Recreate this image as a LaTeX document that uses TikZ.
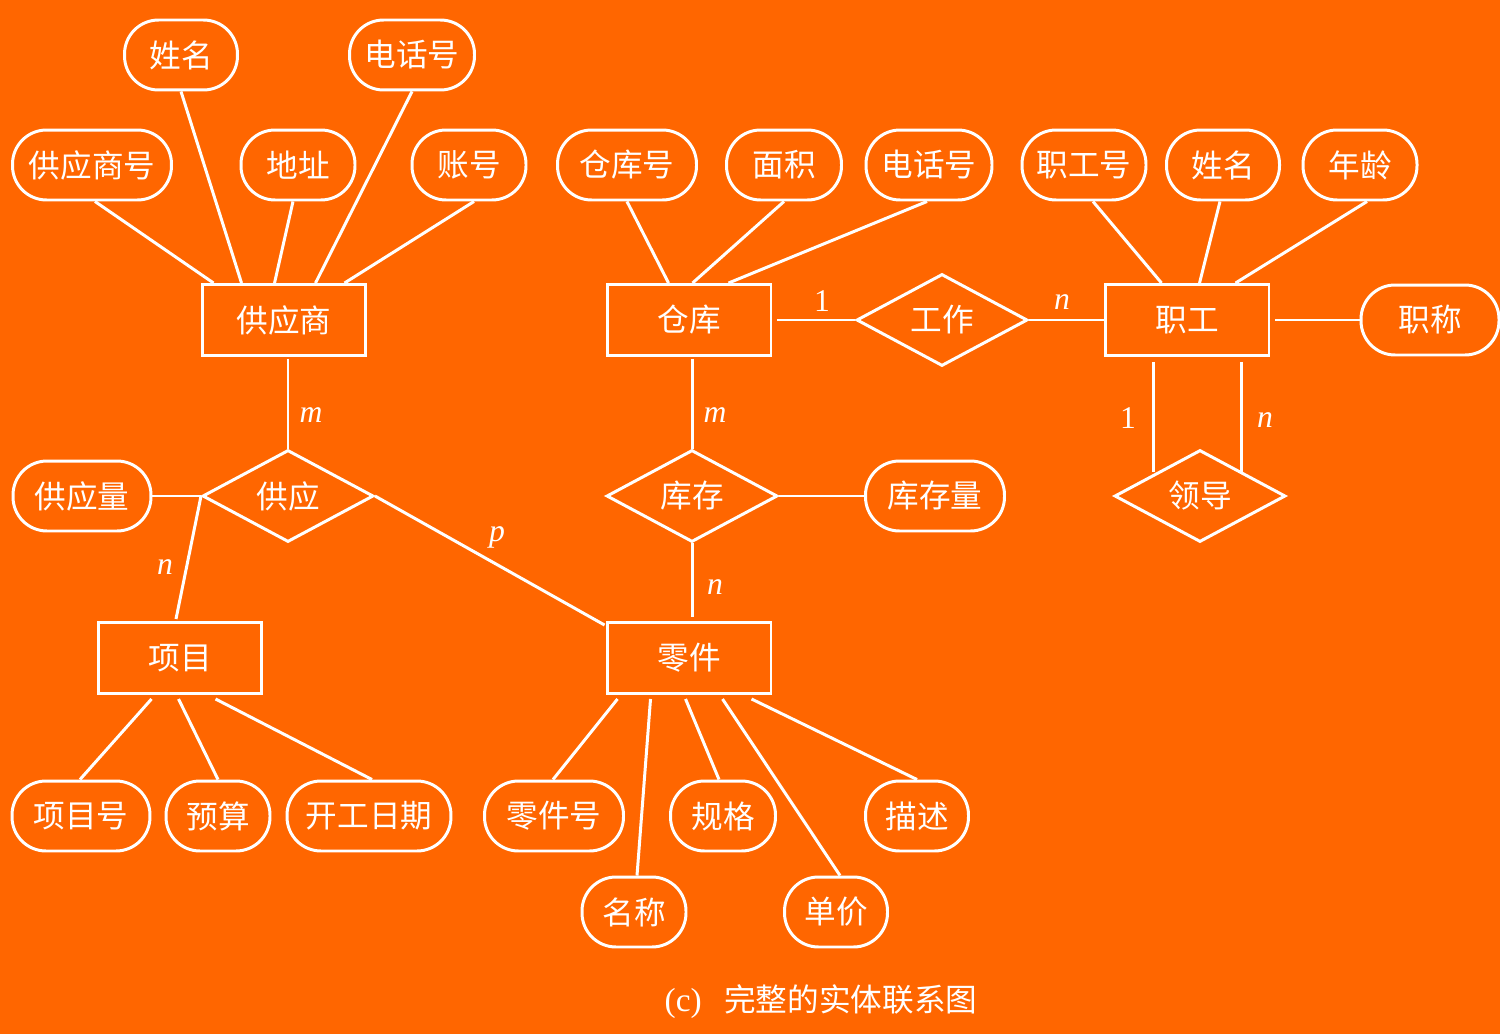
\documentclass[tikz,border=0pt]{standalone}
\usepackage{fontspec}
\setmainfont{Liberation Serif}
\newfontfamily\cjk{Noto Sans CJK SC}
\usetikzlibrary{shapes.geometric,calc}
\definecolor{bg}{RGB}{255,102,0}
\begin{document}
\begin{tikzpicture}[x=0.02cm,y=-0.02cm,
  every node/.style={text=white,font=\cjk\fontsize{18}{20}\selectfont},
  ln/.style={draw=white,line width=1.7pt},
  attr/.style={draw=white,line width=1.7pt,rounded corners=0.68cm,minimum height=1.4cm,inner sep=0pt},
  ent/.style={draw=white,line width=1.7pt,rectangle,minimum width=3.28cm,minimum height=1.42cm,inner sep=0pt},
  rel/.style={draw=white,line width=1.7pt,diamond,aspect=1.86,minimum width=3.42cm,minimum height=1.84cm,inner sep=0pt},
  lab/.style={font=\fontsize{18}{20}\selectfont\itshape},
  labu/.style={font=\fontsize{18}{20}\selectfont}]
\fill[bg] (0,0) rectangle (1500,1034);
\useasboundingbox (0,0) rectangle (1500,1034);
% attributes
\node[attr,minimum width=2.26cm] (fn) at (181,55) {姓名};
\node[attr,minimum width=2.5cm] (ftel) at (412,55) {电话号};
\node[attr,minimum width=3.18cm] (fno) at (92,165) {供应商号};
\node[attr,minimum width=2.28cm] (faddr) at (298,165) {地址};
\node[attr,minimum width=2.28cm] (facc) at (469,165) {账号};
\node[attr,minimum width=2.78cm] (wno) at (627,165) {仓库号};
\node[attr,minimum width=2.3cm] (warea) at (784,165) {面积};
\node[attr,minimum width=2.52cm] (wtel) at (929,165) {电话号};
\node[attr,minimum width=2.48cm] (eno) at (1084,165) {职工号};
\node[attr,minimum width=2.26cm] (ename) at (1223,165) {姓名};
\node[attr,minimum width=2.28cm] (eage) at (1360,165) {年龄};
\node[attr,minimum width=2.76cm] (etitle) at (1430,320) {职称};
\node[attr,minimum width=2.76cm] (sqty) at (82,496) {供应量};
\node[attr,minimum width=2.78cm] (wqty) at (935,496) {库存量};
\node[attr,minimum width=2.76cm] (pno) at (81,816) {项目号};
\node[attr,minimum width=2.08cm] (pbud) at (218,816) {预算};
\node[attr,minimum width=3.28cm] (pdate) at (369,816) {开工日期};
\node[attr,minimum width=2.78cm] (cno) at (554,816) {零件号};
\node[attr,minimum width=2.1cm] (cspec) at (723,816) {规格};
\node[attr,minimum width=2.06cm] (cdesc) at (917,816) {描述};
\node[attr,minimum width=2.08cm] (cname) at (634,912) {名称};
\node[attr,minimum width=2.06cm] (cprice) at (836,912) {单价};
% entities
\node[ent] (sup) at (284,320) {供应商};
\node[ent] (wh) at (689,320) {仓库};
\node[ent] (emp) at (1187,320) {职工};
\node[ent] (proj) at (180,658) {项目};
\node[ent] (part) at (689,658) {零件};
% relationships
\node[rel] (work) at (942,320) {工作};
\node[rel] (supply) at (288,496) {供应};
\node[rel] (stock) at (692,496) {库存};
\node[rel] (lead) at (1200,496) {领导};
% supplier attributes
\draw[ln] ($(fno.south)+(3,0)$) -- ($(sup.north west)+(13,0)$);
\draw[ln] (fn.south) -- ($(sup.north west)+(41,0)$);
\draw[ln] ($(faddr.south)+(-5,0)$) -- ($(sup.north west)+(74,0)$);
\draw[ln] (ftel.south) -- ($(sup.north west)+(115,0)$);
\draw[ln] ($(facc.south)+(5,0)$) -- ($(sup.north west)+(144,0)$);
% warehouse attributes
\draw[ln] (wno.south) -- ($(wh.north west)+(63,0)$);
\draw[ln] (warea.south) -- ($(wh.north west)+(87,0)$);
\draw[ln] ($(wtel.south)+(-2,0)$) -- ($(wh.north west)+(123,0)$);
% employee attributes
\draw[ln] ($(eno.south)+(9,0)$) -- ($(emp.north west)+(58,0)$);
\draw[ln] ($(ename.south)+(-3,0)$) -- ($(emp.north west)+(96,0)$);
\draw[ln] ($(eage.south)+(7,0)$) -- ($(emp.north west)+(132,0)$);
\draw[ln] ($(emp.east)+(5,0)$) -- (etitle.west);
% relationships
\draw[ln] ($(sup.south)+(4,2)$) -- (supply.north);
\draw[ln] (sqty.east) -- (supply.west);
\draw[ln] (supply.west) -- ($(proj.north)+(-4,-2)$);
\draw[ln] (supply.east) -- ($(part.north west)+(-1,4)$);
\draw[ln] ($(wh.east)+(5,0)$) -- (work.west);
\draw[ln] (work.east) -- (emp.west);
\draw[ln] ($(emp.south west)+(50,5)$) coordinate (l1) -- (l1 |- lead.north west);
\draw[ln] ($(emp.south east)+(-29,5)$) coordinate (l2) -- (l2 |- lead.north east);
\draw[ln] ($(wh.south)+(3,2)$) -- (stock.north);
\draw[ln] (stock.east) -- (wqty.west);
\draw[ln] (stock.south) -- ($(part.north)+(3,-4)$);
% project attributes
\draw[ln] ($(proj.south west)+(55,4)$) -- ($(pno.north)+(-1,0)$);
\draw[ln] ($(proj.south west)+(82,4)$) -- (pbud.north);
\draw[ln] ($(proj.south west)+(119,4)$) -- ($(pdate.north)+(3,0)$);
% part attributes
\draw[ln] ($(part.south west)+(12,4)$) -- ($(cno.north)+(-1,0)$);
\draw[ln] ($(part.south west)+(45,4)$) -- ($(cname.north)+(3,0)$);
\draw[ln] ($(part.south west)+(80,4)$) -- ($(cspec.north)+(-4,0)$);
\draw[ln] ($(part.south west)+(117,4)$) -- ($(cprice.north)+(4,0)$);
\draw[ln] ($(part.south west)+(146,4)$) -- (cdesc.north);
% cardinality labels
\node[lab] (c1) at (311,415) {m};
\node[lab] (c2) at (165,567) {n};
\node[lab] (c3) at (497,537) {p};
\node[labu] (c4) at (822,301) {1};
\node[lab] (c5) at (1062,302) {n};
\node[lab] (c6) at (715,415) {m};
\node[lab] (c7) at (715,587) {n};
\node[labu] (c8) at (1128,418) {1};
\node[lab] (c9) at (1265,420) {n};
% caption
\node (cap) at (821,1002) {{\rmfamily\fontsize{19}{20}\selectfont (c)}\hspace{0.45cm}完整的实体联系图};
\end{tikzpicture}
\end{document}
